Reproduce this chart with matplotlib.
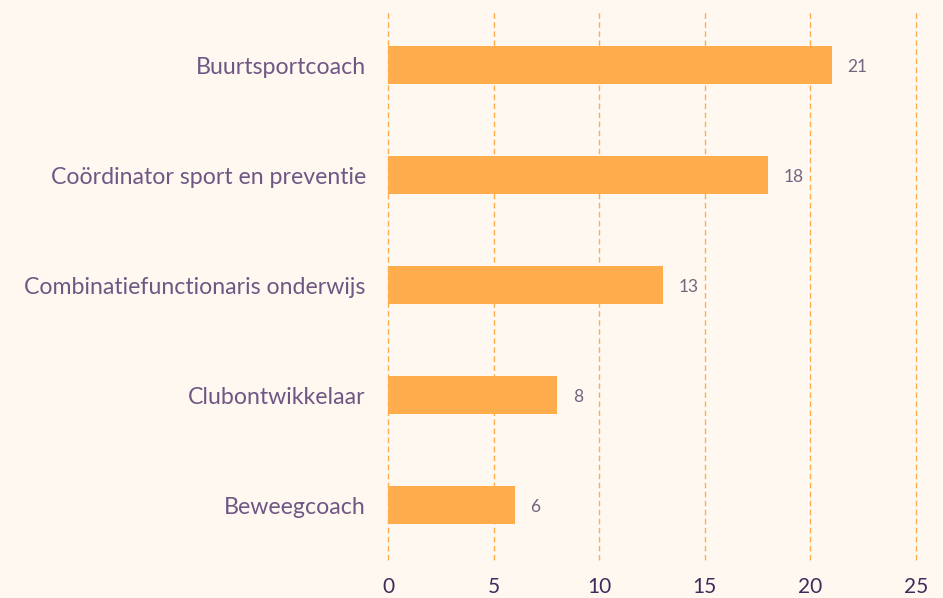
import matplotlib.pyplot as plt

# data
categories = ["Buurtsportcoach", "Coördinator sport en preventie",
              "Combinatiefunctionaris onderwijs", "Clubontwikkelaar", "Beweegcoach"]
values = [21, 18, 13, 8, 6]
xticks = [0, 5, 10, 15, 20, 25]

BG = "#fff8f1"
BAR = "#ffad4c"
LABEL = "#6f5784"
TICK = "#3f2b5b"
VAL = "#73647f"

plt.rcParams["font.family"] = ["Lato", "DejaVu Sans"]

fig = plt.figure(figsize=(9.43, 5.98), dpi=100)
fig.set_facecolor(BG)
ax = fig.add_axes([388 / 943, 38 / 598, 528 / 943, 550 / 598])
ax.set_facecolor(BG)

y = list(range(len(categories)))
ax.barh(y, values, height=0.35, color=BAR, zorder=3)
for yi, v in zip(y, values):
    ax.text(v + 0.75, yi + 0.02, str(v), va="center", ha="left", fontsize=12.5,
            color=VAL)

ax.set_xlim(0, 25)
ax.set_ylim(len(categories) - 0.5, -0.5)
ax.set_xticks(xticks)
ax.set_xticklabels([str(t) for t in xticks], fontsize=15, color=TICK)
ax.set_yticks(y)
ax.set_yticklabels(categories, fontsize=16.7, color=LABEL)
ax.tick_params(axis="both", length=0)
ax.tick_params(axis="y", pad=16)
ax.tick_params(axis="x", pad=12)
ax.grid(axis="x", color=BAR, linestyle=(0, (4, 2.5)), linewidth=1, zorder=0)
for line in ax.get_xgridlines():
    line.set_clip_on(False)
for s in ax.spines.values():
    s.set_visible(False)

plt.savefig("out.png", facecolor=BG)
plt.close()
